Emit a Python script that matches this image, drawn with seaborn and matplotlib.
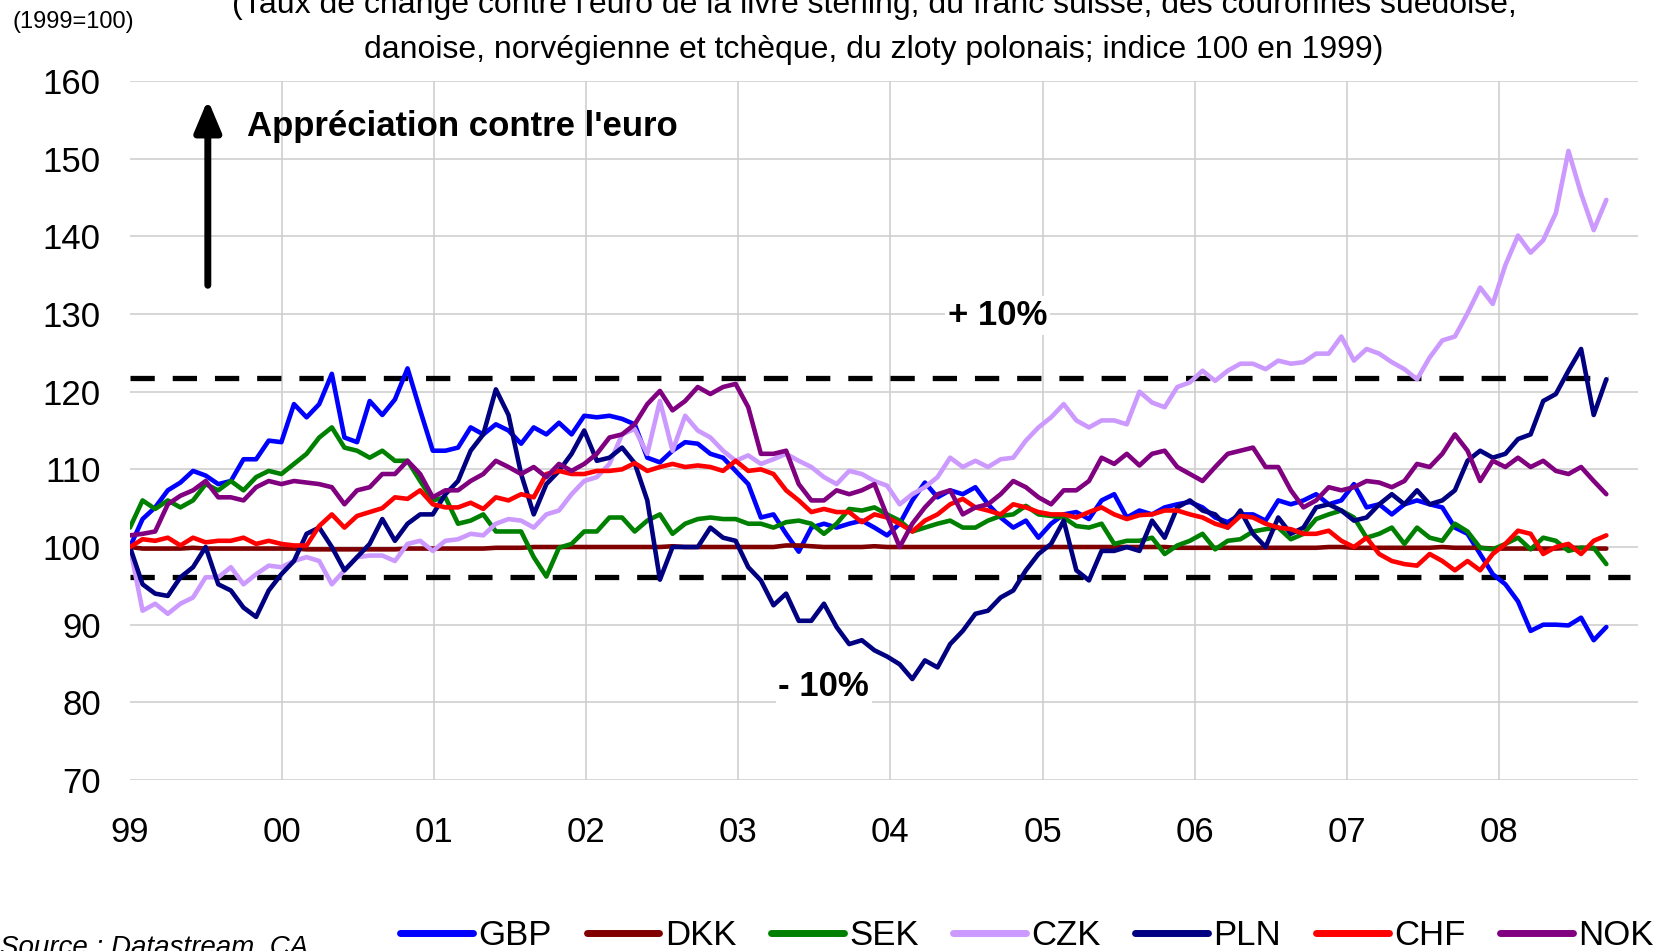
import numpy as np
import pandas as pd
import seaborn as sns
import matplotlib.pyplot as plt

# monthly readings, Jan 1999 -> mid-Sep 2008
gbp = [100.0, 103.6, 105.1, 107.3, 108.3, 109.8, 109.2, 108.1, 108.5, 111.3,
       111.3, 113.7, 113.5, 118.4, 116.7, 118.4, 122.3, 114.1, 113.5, 118.8,
       117.0, 119.0, 123.0, 117.6, 112.4, 112.4, 112.8, 115.4, 114.5, 115.8,
       115.0, 113.3, 115.4, 114.5, 116.0, 114.5, 116.9, 116.7, 116.9, 116.5,
       115.8, 111.5, 110.9, 112.4, 113.5, 113.3, 112.0, 111.5, 109.8, 108.1,
       103.8, 104.2, 101.7, 99.4, 102.5, 103.0, 102.5, 103.0, 103.4, 102.5,
       101.5, 103.0, 106.0, 108.3, 106.4, 107.3, 106.8, 107.7, 105.5, 103.8,
       102.5, 103.4, 101.2, 103.0, 104.2, 104.5, 103.6, 106.0, 106.8, 103.8,
       104.7, 104.2, 105.1, 105.5, 105.8, 105.1, 103.8, 103.2, 104.2, 104.2,
       103.4, 106.0, 105.5, 106.0, 106.8, 105.5, 106.0, 108.1, 105.1, 105.5,
       104.2, 105.5, 106.0, 105.5, 105.1, 102.5, 101.7, 99.1, 96.5, 95.2,
       93.0, 89.2, 90.0, 90.0, 89.9, 90.9, 88.0, 89.7]
dkk = [100.0, 99.8, 99.8, 99.8, 99.8, 99.9, 99.8, 99.8, 99.8, 99.8,
       99.8, 99.8, 99.8, 99.8, 99.7, 99.7, 99.7, 99.7, 99.7, 99.7,
       99.7, 99.7, 99.8, 99.8, 99.8, 99.8, 99.8, 99.8, 99.8, 99.9,
       99.9, 99.9, 100.0, 100.0, 100.0, 100.0, 100.0, 100.0, 100.0, 100.0,
       100.0, 100.0, 100.0, 100.1, 100.0, 100.0, 100.0, 100.0, 100.0, 100.0,
       100.0, 100.0, 100.2, 100.2, 100.1, 100.0, 100.0, 100.0, 100.0, 100.1,
       100.0, 100.0, 100.0, 100.0, 100.0, 100.0, 100.0, 100.0, 100.0, 100.0,
       100.0, 100.0, 100.0, 100.0, 100.0, 100.0, 100.0, 100.0, 100.0, 100.0,
       100.0, 100.0, 100.0, 99.9, 99.9, 99.9, 99.9, 99.9, 99.9, 99.9,
       99.9, 99.9, 99.9, 99.9, 99.9, 100.0, 100.0, 99.9, 99.9, 99.9,
       99.9, 99.9, 99.9, 99.9, 100.0, 99.9, 99.9, 99.9, 99.8, 99.8,
       99.8, 99.8, 99.8, 99.8, 99.9, 99.9, 99.8, 99.8]
sek = [102.5, 106.0, 104.9, 106.0, 105.1, 106.0, 108.1, 107.3, 108.5, 107.3,
       109.0, 109.8, 109.4, 110.7, 112.0, 114.1, 115.4, 112.8, 112.4, 111.5,
       112.4, 111.1, 111.1, 108.5, 106.0, 106.4, 103.0, 103.4, 104.2, 102.0,
       102.0, 102.0, 98.7, 96.2, 99.9, 100.4, 102.0, 102.0, 103.8, 103.8,
       102.0, 103.4, 104.2, 101.7, 103.0, 103.6, 103.8, 103.6, 103.6, 103.0,
       103.0, 102.5, 103.2, 103.4, 103.0, 101.7, 103.0, 104.9, 104.7, 105.1,
       104.2, 103.4, 102.0, 102.5, 103.0, 103.4, 102.5, 102.5, 103.4, 104.0,
       104.2, 105.3, 104.2, 104.0, 103.8, 102.7, 102.5, 103.0, 100.4, 100.8,
       100.8, 101.2, 99.1, 100.2, 100.8, 101.7, 99.7, 100.8, 101.0, 102.0,
       102.3, 102.5, 101.0, 101.7, 103.6, 104.2, 104.7, 103.8, 101.2, 101.7,
       102.5, 100.4, 102.5, 101.2, 100.8, 103.0, 102.0, 99.9, 99.7, 100.4,
       101.2, 99.7, 101.2, 100.8, 99.5, 99.9, 99.9, 97.8]
czk = [100.0, 91.8, 92.7, 91.4, 92.7, 93.5, 96.1, 96.1, 97.4, 95.2,
       96.5, 97.6, 97.4, 98.2, 98.7, 98.2, 95.2, 97.0, 98.7, 98.9,
       98.9, 98.2, 100.4, 100.8, 99.5, 100.8, 101.0, 101.7, 101.5, 103.0,
       103.6, 103.4, 102.5, 104.2, 104.7, 106.8, 108.5, 109.0, 110.7, 114.5,
       115.2, 112.0, 118.8, 112.4, 116.9, 115.0, 114.1, 112.4, 111.1, 111.8,
       110.7, 111.3, 112.0, 111.1, 110.3, 109.0, 108.1, 109.8, 109.4, 108.5,
       107.9, 105.5, 106.8, 107.7, 109.0, 111.5, 110.3, 111.1, 110.3, 111.3,
       111.5, 113.7, 115.4, 116.7, 118.4, 116.3, 115.4, 116.3, 116.3, 115.8,
       120.0, 118.6, 118.0, 120.6, 121.2, 122.7, 121.4, 122.7, 123.6, 123.6,
       122.9, 124.0, 123.6, 123.8, 124.9, 124.9, 127.1, 124.0, 125.5, 124.9,
       123.8, 122.9, 121.6, 124.4, 126.6, 127.1, 130.1, 133.4, 131.3, 136.3,
       140.1, 137.9, 139.5, 143.0, 151.0, 145.5, 140.8, 144.7]
pln = [100.0, 95.2, 94.0, 93.7, 96.1, 97.4, 100.0, 95.2, 94.4, 92.2,
       91.0, 94.4, 96.5, 98.2, 101.7, 102.5, 100.0, 97.0, 98.7, 100.4,
       103.6, 100.8, 103.0, 104.2, 104.2, 106.8, 108.5, 112.4, 114.5, 120.3,
       117.0, 109.4, 104.2, 108.1, 109.8, 112.0, 115.0, 111.1, 111.5, 112.8,
       110.8, 106.0, 95.8, 100.0, 100.0, 100.0, 102.5, 101.2, 100.8, 97.4,
       95.7, 92.5, 94.0, 90.5, 90.5, 92.7, 89.7, 87.5, 88.0, 86.7,
       85.9, 84.9, 83.0, 85.4, 84.5, 87.5, 89.2, 91.4, 91.8, 93.5,
       94.4, 97.0, 99.1, 100.4, 103.4, 97.0, 95.7, 99.5, 99.5, 100.0,
       99.5, 103.4, 101.2, 105.1, 106.0, 104.7, 104.2, 102.5, 104.7, 101.7,
       100.0, 103.8, 101.7, 102.5, 105.1, 105.5, 104.7, 103.4, 103.8, 105.5,
       106.8, 105.5, 107.3, 105.5, 106.0, 107.3, 111.1, 112.4, 111.5, 112.0,
       113.9, 114.5, 118.8, 119.7, 122.7, 125.5, 117.0, 121.6]
chf = [100.0, 101.0, 100.8, 101.2, 100.2, 101.2, 100.6, 100.8, 100.8, 101.2,
       100.4, 100.8, 100.4, 100.2, 100.2, 102.7, 104.2, 102.5, 104.0, 104.5,
       105.0, 106.4, 106.2, 107.3, 105.5, 105.1, 105.1, 105.7, 104.9, 106.4,
       106.0, 106.8, 106.4, 109.4, 109.8, 109.4, 109.4, 109.8, 109.8, 110.0,
       110.8, 109.8, 110.3, 110.7, 110.3, 110.5, 110.3, 109.8, 111.1, 109.8,
       110.0, 109.4, 107.3, 106.0, 104.5, 104.9, 104.5, 104.5, 103.2, 104.2,
       103.8, 103.0, 102.0, 103.4, 104.2, 105.5, 106.2, 105.1, 104.7, 104.2,
       105.5, 105.1, 104.5, 104.2, 104.2, 103.8, 104.5, 105.1, 104.2, 103.6,
       104.1, 104.2, 104.7, 104.7, 104.2, 103.8, 103.0, 102.5, 104.0, 103.8,
       103.0, 102.5, 102.3, 101.7, 101.7, 102.1, 100.8, 100.0, 101.2, 99.1,
       98.2, 97.8, 97.6, 99.1, 98.2, 97.0, 98.2, 97.0, 99.1, 100.4,
       102.1, 101.7, 99.1, 100.0, 100.4, 99.1, 100.8, 101.5]
nok = [101.5, 101.7, 102.0, 105.5, 106.6, 107.3, 108.5, 106.4, 106.4, 106.0,
       107.7, 108.5, 108.1, 108.5, 108.3, 108.1, 107.7, 105.5, 107.3, 107.7,
       109.4, 109.4, 111.1, 109.4, 106.4, 107.3, 107.3, 108.5, 109.4, 111.1,
       110.3, 109.4, 110.3, 109.0, 110.7, 109.8, 110.7, 112.0, 114.1, 114.5,
       115.8, 118.4, 120.1, 117.6, 118.8, 120.6, 119.7, 120.6, 121.0, 118.0,
       112.0, 112.0, 112.4, 108.1, 106.0, 106.0, 107.3, 106.8, 107.3, 108.1,
       104.0, 100.0, 103.0, 105.1, 106.8, 107.3, 104.2, 105.1, 105.5, 106.8,
       108.5, 107.7, 106.4, 105.5, 107.3, 107.3, 108.5, 111.5, 110.7, 112.0,
       110.5, 112.0, 112.4, 110.3, 109.4, 108.5, 110.3, 112.0, 112.4, 112.8,
       110.3, 110.3, 107.3, 105.1, 106.0, 107.7, 107.3, 107.7, 108.5, 108.3,
       107.7, 108.5, 110.7, 110.3, 112.0, 114.5, 112.4, 108.5, 111.1, 110.3,
       111.5, 110.3, 111.1, 109.8, 109.4, 110.3, 108.5, 106.8]

currencies = ["GBP", "DKK", "SEK", "CZK", "PLN", "CHF", "NOK"]
colors = ["#0000FF", "#800000", "#008000", "#CC99FF", "#000080", "#FF0000", "#800080"]
upper_band = 121.7
lower_band = 96.1
year_labels = ["99", "00", "01", "02", "03", "04", "05", "06", "07", "08"]

dates = pd.date_range("1999-01-01", "2008-09-15", periods=len(gbp))
df = pd.DataFrame({"date": dates, "GBP": gbp, "DKK": dkk, "SEK": sek, "CZK": czk,
                   "PLN": pln, "CHF": chf, "NOK": nok})
long_df = df.melt(id_vars="date", var_name="devise", value_name="indice")

sns.set_style("white")
plt.rcParams["font.family"] = ["Liberation Sans", "DejaVu Sans"]
plt.rcParams.update({"text.color": "black", "xtick.color": "black",
                     "ytick.color": "black", "axes.labelcolor": "black"})

fig = plt.figure(figsize=(16.68, 9.51), dpi=100)
ax = fig.add_axes([0.0779, 0.1798, 0.9041, 0.7350])

sns.lineplot(data=long_df, x="date", y="indice", hue="devise", hue_order=currencies,
             palette=dict(zip(currencies, colors)), linewidth=3.3, ax=ax, zorder=3)
for line in ax.lines:
    line.set_linewidth(3.3)
    line.set_solid_joinstyle("round")

# +/- 10% bands
ax.plot([pd.Timestamp("1999-01-01"), pd.Timestamp("2008-09-20")], [upper_band] * 2,
        color="black", lw=3.8, ls=(0, (4.6, 3.4)), zorder=2)
ax.plot([pd.Timestamp("1999-01-01"), pd.Timestamp("2008-11-10")], [lower_band] * 2,
        color="black", lw=3.8, ls=(0, (4.6, 3.4)), zorder=2)

ax.set_xlim(pd.Timestamp("1999-01-01"), pd.Timestamp("2008-11-30"))
ax.set_ylim(70, 160)
ax.set_yticks(np.arange(70, 161, 10))
year_ticks = pd.to_datetime([f"{1999 + i}-01-01" for i in range(len(year_labels))])
ax.set_xticks(year_ticks)
ax.set_xticklabels(year_labels)
ax.set(xlabel=None, ylabel=None)
ax.tick_params(axis="both", length=0, labelsize=25)
ax.tick_params(axis="y", pad=21)
ax.tick_params(axis="x", pad=26)
for s in ax.spines.values():
    s.set_visible(False)
ax.grid(True, color="#CFCFCF", lw=1.2, zorder=0)
ax.set_axisbelow(True)
ax.xaxis.get_gridlines()[0].set_visible(False)

# arrow + annotations
x_arrow = pd.Timestamp("1999-07-07")
ax.annotate("", xy=(x_arrow, 157.6), xytext=(x_arrow, 133.7),
            arrowprops=dict(arrowstyle="-|>,head_width=0.8,head_length=1.9", lw=5,
                            color="black", shrinkA=0, shrinkB=0))
ax.text(pd.Timestamp("1999-10-10"), 154.2, "Appréciation contre l'euro", fontsize=25,
        fontweight="bold", va="center", ha="left")
ax.text(pd.Timestamp("2004-09-15"), 129.8, "+ 10%", fontsize=25, fontweight="bold",
        va="center", ha="center", bbox=dict(fc="white", ec="none", pad=2), zorder=4)
ax.text(pd.Timestamp("2003-07-25"), 82.1, "- 10%", fontsize=25, fontweight="bold",
        va="center", ha="center", bbox=dict(fc="white", ec="none", pad=2), zorder=4)

# legend at the bottom
handles, labels = ax.get_legend_handles_labels()
ax.get_legend().remove()
leg = fig.legend(handles, labels, loc="center", bbox_to_anchor=(0.6157, 0.0158), ncol=7,
                 frameon=False, fontsize=25, handlelength=2.1, handletextpad=0.15,
                 columnspacing=1.0)
for line in leg.get_lines():
    line.set_linewidth(5)

fig.text(0.524, 1 - 13 / 951,
         "(Taux de change contre l'euro de la livre sterling, du franc suisse, des couronnes suédoise,",
         fontsize=23, ha="center", va="baseline")
fig.text(0.524, 1 - 58 / 951,
         "danoise, norvégienne et tchèque, du zloty polonais; indice 100 en 1999)",
         fontsize=23, ha="center", va="baseline")
fig.text(73 / 1668, 1 - 22 / 951, "(1999=100)", fontsize=17, ha="center", va="center")
fig.text(0.0, 1 - 934 / 951, "Source : Datastream, CA", fontsize=20, style="italic",
         ha="left", va="top")

fig.savefig("out.png", dpi=100)
